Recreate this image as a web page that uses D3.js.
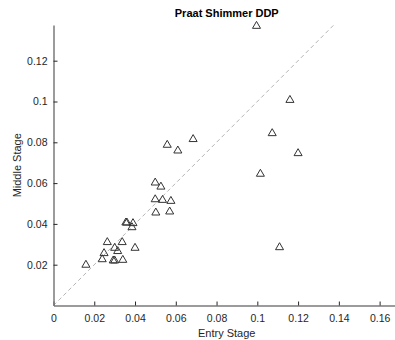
<!DOCTYPE html>
<html>
<head>
<meta charset="utf-8">
<script src="https://cdn.jsdelivr.net/npm/d3@7"></script>
<style>
  body { margin: 0; background: #fff; }
  #chart { width: 395px; height: 340px; }
  text { font-family: "Liberation Sans", Arial, sans-serif; }
</style>
</head>
<body>
<div id="chart"></div>
<script>
// values
var entryStage = [0.0159, 0.0239, 0.0248, 0.0264, 0.0300, 0.0315, 0.0293, 0.0300, 0.0340, 0.0337,
                  0.0400, 0.0355, 0.0360, 0.0390, 0.0385, 0.0499, 0.0527, 0.0499, 0.0535, 0.0576,
                  0.0502, 0.0570, 0.0558, 0.0610, 0.0685, 0.0996, 0.1160, 0.1073, 0.1200, 0.1015,
                  0.1109];
var middleStage = [0.0199, 0.0226, 0.0256, 0.0310, 0.0282, 0.0266, 0.0220, 0.0220, 0.0223, 0.0310,
                   0.0282, 0.0406, 0.0406, 0.0403, 0.0383, 0.0602, 0.0582, 0.0520, 0.0517, 0.0512,
                   0.0455, 0.0460, 0.0787, 0.0759, 0.0815, 0.1370, 0.1007, 0.0844, 0.0746, 0.0645,
                   0.0285];
var xTicks = [0, 0.02, 0.04, 0.06, 0.08, 0.1, 0.12, 0.14, 0.16];
var yTicks = [0.02, 0.04, 0.06, 0.08, 0.1, 0.12];
var xLimits = [0, 0.17];
var yLimits = [0, 0.1375];

var width = 395, height = 340;
var margin = { left: 53.5, right: 400, top: 25, bottom: 305.5 };
var axisColor = "#7a7a7a";
var textColor = "#262626";

var svg = d3.select("#chart").append("svg")
  .attr("width", width)
  .attr("height", height);

var x = d3.scaleLinear().domain(xLimits).range([margin.left, margin.right]);
var y = d3.scaleLinear().domain(yLimits).range([margin.bottom, margin.top]);

// y = x reference line
svg.append("line")
  .attr("x1", x(0)).attr("y1", y(0))
  .attr("x2", x(yLimits[1])).attr("y2", y(yLimits[1]))
  .attr("stroke", "#b5b5b5")
  .attr("stroke-width", 1)
  .attr("stroke-dasharray", "4,3");

// x axis
var xAxis = svg.append("g")
  .attr("transform", "translate(0," + margin.bottom + ")")
  .call(d3.axisBottom(x).tickValues(xTicks).tickSizeInner(-4).tickSizeOuter(0)
    .tickPadding(9).tickFormat(function (d) { return d3.format("~g")(d); }));
xAxis.select(".domain").attr("stroke", axisColor).attr("stroke-width", 1.5);
xAxis.selectAll(".tick line").attr("stroke", textColor);
xAxis.selectAll("text").attr("fill", textColor).style("font-size", "10.5px");

// y axis
var yAxis = svg.append("g")
  .attr("transform", "translate(" + margin.left + ",0)")
  .call(d3.axisLeft(y).tickValues(yTicks).tickSizeInner(-4).tickSizeOuter(0)
    .tickPadding(6).tickFormat(function (d) { return d3.format("~g")(d); }));
yAxis.select(".domain").attr("stroke", axisColor).attr("stroke-width", 1.5);
yAxis.selectAll(".tick line").attr("stroke", textColor);
yAxis.selectAll("text").attr("fill", textColor).style("font-size", "10.5px");

// triangle markers
var tri = d3.symbol().type(d3.symbolTriangle).size(28);
svg.append("g").selectAll("path")
  .data(entryStage)
  .enter().append("path")
  .attr("d", tri)
  .attr("transform", function (d, i) {
    return "translate(" + x(d) + "," + y(middleStage[i]) + ")";
  })
  .attr("fill", "none")
  .attr("stroke", "#333")
  .attr("stroke-width", 1);

// labels
var cx = (margin.left + margin.right) / 2;
svg.append("text")
  .attr("x", cx).attr("y", 17)
  .attr("text-anchor", "middle")
  .attr("fill", "#000")
  .style("font-size", "11px")
  .style("font-weight", "bold")
  .text("Praat Shimmer DDP");

svg.append("text")
  .attr("x", cx).attr("y", 337)
  .attr("text-anchor", "middle")
  .attr("fill", textColor)
  .style("font-size", "11px")
  .text("Entry Stage");

svg.append("text")
  .attr("transform", "translate(21," + ((margin.top + margin.bottom) / 2) + ") rotate(-90)")
  .attr("text-anchor", "middle")
  .attr("fill", textColor)
  .style("font-size", "11px")
  .text("Middle Stage");
</script>
</body>
</html>
